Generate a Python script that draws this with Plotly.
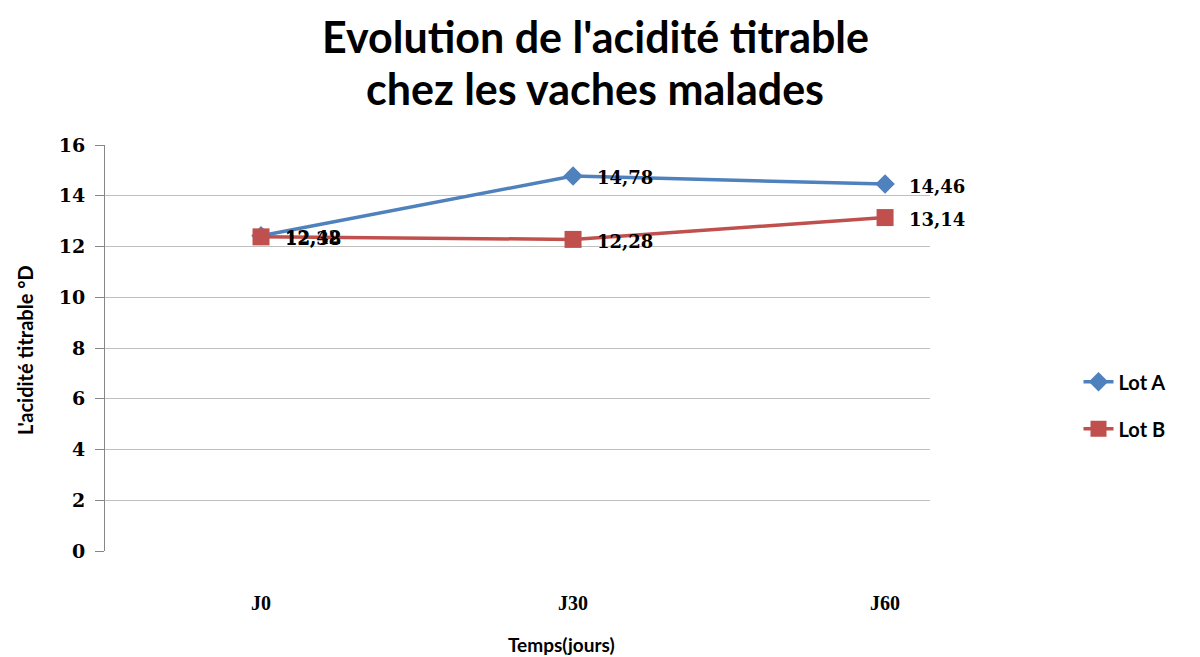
import plotly.graph_objects as go

categories = ["J0", "J30", "J60"]
lot_a = [12.42, 14.78, 14.46]
lot_b = [12.38, 12.28, 13.14]
y_ticks = [0, 2, 4, 6, 8, 10, 12, 14, 16]
title_lines = ["Evolution de l'acidité titrable", "chez les vaches malades"]

def fr(v):
    return f"{v:.2f}".replace(".", ",")

xpos = list(range(len(categories)))
label_font = dict(family="DejaVu Serif", size=18, color="#000000", weight="bold")
ytick_font = dict(family="DejaVu Serif", size=19, color="#000000", weight="bold")
xtick_font = dict(family="Liberation Serif", size=20, color="#000000", weight="bold")

L, R, T, B = 105, 270, 145, 106
W, H = 1200, 657
pw, ph = W - L - R, H - T - B

def px_x(x):
    return (x - L) / pw

def px_y(y):
    return (H - B - y) / ph

fig = go.Figure()
fig.add_trace(go.Scatter(
    x=xpos, y=lot_a, name="Lot A", mode="lines+markers", legendgroup="a",
    line=dict(color="#4F81BD", width=3.5),
    marker=dict(symbol="diamond", size=15, color="#4F81BD"),
    cliponaxis=False,
))
fig.add_trace(go.Scatter(
    x=xpos, y=lot_b, name="Lot B", mode="lines+markers", legendgroup="b",
    line=dict(color="#C0504D", width=3.5),
    marker=dict(symbol="square", size=17, color="#C0504D"),
    cliponaxis=False,
))

annotations = []
for series in (lot_a, lot_b):
    for xi, v in zip(xpos, series):
        annotations.append(dict(
            x=xi, y=v, xref="x", yref="y", text=fr(v), showarrow=False,
            xanchor="left", yanchor="middle", xshift=22, yshift=-2,
            font=label_font,
        ))

for i, line in enumerate(title_lines):
    annotations.append(dict(
        x=px_x(595), y=px_y([36, 89][i]), xref="paper", yref="paper", text=line,
        showarrow=False, xanchor="center", yanchor="middle",
        font=dict(family="Lato", size=43, color="#000000", weight="bold"),
    ))

annotations.append(dict(
    x=px_x(25), y=px_y(350), xref="paper", yref="paper", text="L'acidité titrable °D",
    showarrow=False, textangle=-90, xanchor="center", yanchor="middle",
    font=dict(family="Lato", size=20, color="#000000", weight="bold"),
))
annotations.append(dict(
    x=px_x(561), y=px_y(644), xref="paper", yref="paper", text="Temps(jours)",
    showarrow=False, xanchor="center", yanchor="middle",
    font=dict(family="Lato", size=19, color="#000000", weight="bold"),
))

fig.update_layout(
    width=W, height=H,
    margin=dict(l=L, r=R, t=T, b=B, autoexpand=False),
    paper_bgcolor="white", plot_bgcolor="white",
    annotations=annotations,
    xaxis=dict(
        range=[-0.5, 2.144], tickmode="array", tickvals=xpos, ticktext=categories,
        showgrid=False, zeroline=False, showline=False, ticks="", automargin=False,
        tickfont=xtick_font, ticklabelstandoff=38,
    ),
    yaxis=dict(
        range=[0, 16], tickmode="array", tickvals=y_ticks, automargin=False,
        showgrid=True, gridcolor="#BFBFBF", gridwidth=1,
        zeroline=False, showline=True, linecolor="#868686", linewidth=1,
        ticks="outside", ticklen=9, tickcolor="#868686",
        tickfont=ytick_font, ticklabelstandoff=6,
    ),
    legend=dict(
        x=1.18, y=0.465, xanchor="left", yanchor="top",
        font=dict(family="Lato", size=20, color="#000000", weight="bold"),
        tracegroupgap=18, traceorder="grouped",
    ),
    showlegend=True,
)

fig.write_html("out.html", config={"displayModeBar": False},
               post_script="document.body.style.margin='0';")
